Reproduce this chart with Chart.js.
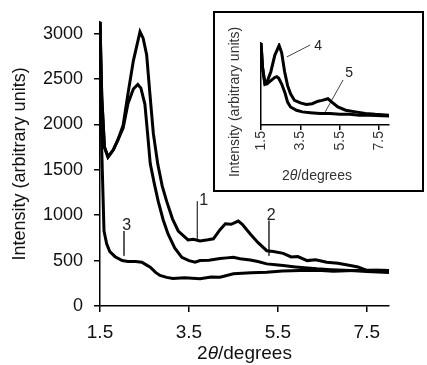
<!DOCTYPE html>
<html>
<head>
<meta charset="utf-8">
<script src="https://cdn.jsdelivr.net/npm/chart.js@4.4.1/dist/chart.umd.min.js"></script>
<style>
  html, body { margin: 0; padding: 0; background: #fff; }
  #wrap { position: relative; width: 427px; height: 365px; overflow: hidden; }
  #main { position: absolute; left: 0; top: 0; }
  #insetBox { position: absolute; left: 213px; top: 11px; width: 207px; height: 177px; border: 2px solid #000; background: #fff; }
  #inset { position: absolute; left: 0; top: 0; }
</style>
</head>
<body>
<div id="wrap">
  <canvas id="main" width="427" height="365"></canvas>
  <div id="insetBox"><canvas id="inset" width="207" height="177"></canvas></div>
</div>
<script>
// ---------- main chart data (2theta in degrees, intensity in arbitrary units) ----------
const x1 = [1.5, 1.54, 1.6, 1.68, 1.8, 1.9, 2.02, 2.13, 2.25, 2.4, 2.47, 2.55, 2.62, 2.7, 2.8, 2.9, 3.0, 3.13, 3.26, 3.48, 3.6, 3.75, 3.93, 4.05, 4.2, 4.32, 4.45, 4.61, 4.7, 4.88, 5.05, 5.25, 5.4, 5.62, 5.8, 5.95, 6.16, 6.35, 6.6, 6.85, 7.13, 7.3, 7.5, 7.75, 8.0];
const y1 = [3130, 2300, 1750, 1641, 1720, 1826, 1990, 2340, 2700, 3020, 2950, 2764, 2350, 1900, 1560, 1320, 1152, 960, 826, 728, 735, 717, 730, 740, 840, 905, 900, 935, 900, 793, 700, 609, 600, 580, 540, 545, 500, 510, 482, 470, 446, 430, 391, 395, 391];

const x2 = [1.5, 1.54, 1.6, 1.68, 1.8, 1.9, 2.02, 2.13, 2.25, 2.35, 2.42, 2.51, 2.57, 2.63, 2.72, 2.81, 2.92, 3.03, 3.18, 3.34, 3.5, 3.64, 3.75, 3.95, 4.2, 4.35, 4.5, 4.65, 4.88, 5.05, 5.25, 5.45, 5.62, 5.9, 6.1, 6.38, 6.7, 7.13, 7.5, 8.0];
const y2 = [3130, 2300, 1750, 1641, 1720, 1826, 1960, 2230, 2390, 2440, 2400, 2221, 1900, 1568, 1350, 1152, 950, 793, 640, 536, 500, 482, 500, 505, 522, 530, 536, 520, 507, 490, 464, 455, 446, 430, 420, 409, 400, 391, 380, 370];

const x3 = [1.5, 1.54, 1.59, 1.65, 1.72, 1.84, 2.0, 2.13, 2.3, 2.44, 2.55, 2.63, 2.75, 2.85, 3.0, 3.14, 3.4, 3.75, 4.0, 4.2, 4.5, 4.9, 5.25, 5.6, 6.0, 6.4, 6.75, 7.2, 7.6, 8.0];
const y3 = [3130, 1700, 826, 685, 600, 543, 500, 489, 490, 482, 450, 427, 370, 337, 315, 304, 310, 301, 320, 318, 355, 365, 373, 385, 391, 395, 384, 390, 395, 391];

const xTicks = [1.5, 3.5, 5.5, 7.5];
const yTicks = [0, 500, 1000, 1500, 2000, 2500, 3000];

// curve number labels with their leader lines
const labelNames = ["1", "2", "3"];
const labelTextX = [3.83, 5.35, 2.1];
const labelTextY = [1163, 1000, 891];
const leaderX = [3.69, 5.3, 2.04];
const leaderTop = [1152, 940, 826];
const leaderBottom = [739, 554, 554];

// ---------- inset data ----------
const x4 = [1.5, 1.58, 1.7, 1.8, 2.0, 2.2, 2.42, 2.55, 2.7, 2.85, 3.0, 3.2, 3.5, 3.8, 4.1, 4.4, 4.6, 4.9, 5.1, 5.4, 5.8, 6.3, 6.8, 7.3, 8.0];
const y4 = [100, 70, 50, 52, 65, 85, 97, 88, 65, 48, 38, 30, 27, 25, 26, 29, 30, 32, 28, 22, 18, 16, 14, 13, 12];
const x5 = [1.5, 1.58, 1.7, 1.8, 2.0, 2.2, 2.3, 2.4, 2.55, 2.72, 2.85, 3.0, 3.3, 3.6, 4.0, 4.5, 5.0, 5.5, 6.0, 6.5, 7.0, 8.0];
const y5 = [100, 70, 50, 50, 54, 58, 59, 57, 50, 39, 28, 22, 18, 16, 15, 14, 14, 13, 13, 12, 12, 11];

const insetNames = ["4", "5"];
const insetTextX = [4.4, 5.98];
const insetTextY = [96, 63];
const insetLeadX1 = [2.81, 4.76];
const insetLeadY1 = [83, 16];
const insetLeadX2 = [4.0, 5.67];
const insetLeadY2 = [97.6, 55];

const FONT = "'Liberation Sans', Arial, Helvetica, sans-serif";

function pts(xs, ys) {
  return xs.map((x, i) => ({ x: x, y: ys[i] }));
}

function curve(xs, ys, w) {
  return {
    data: pts(xs, ys),
    borderColor: "#000",
    borderWidth: w,
    pointRadius: 0,
    tension: 0,
    fill: false
  };
}

function leader(xa, ya, xb, yb) {
  return {
    data: [{ x: xa, y: ya }, { x: xb, y: yb }],
    borderColor: "#444",
    borderWidth: 1,
    pointRadius: 0,
    tension: 0,
    fill: false
  };
}

// draws "2θ/degrees" with an italic theta, centred on cx
function drawTwoTheta(ctx, cx, baseY, size, color) {
  const normal = size + "px " + FONT;
  const italic = "italic " + size + "px " + FONT;
  const parts = [["2", normal], ["θ", italic], ["/degrees", normal]];
  let total = 0;
  parts.forEach(p => { ctx.font = p[1]; total += ctx.measureText(p[0]).width; });
  let x = cx - total / 2;
  ctx.fillStyle = color;
  ctx.textAlign = "left";
  ctx.textBaseline = "alphabetic";
  parts.forEach(p => {
    ctx.font = p[1];
    ctx.fillText(p[0], x, baseY);
    x += ctx.measureText(p[0]).width;
  });
}

const mainText = {
  id: "mainText",
  afterDatasetsDraw(chart) {
    const ctx = chart.ctx;
    const xs = chart.scales.x, ys = chart.scales.y;
    ctx.save();
    ctx.font = "16px " + FONT;
    ctx.fillStyle = "#222";
    ctx.textAlign = "center";
    ctx.textBaseline = "middle";
    labelNames.forEach((t, i) => {
      ctx.fillText(t, xs.getPixelForValue(labelTextX[i]), ys.getPixelForValue(labelTextY[i]));
    });
    drawTwoTheta(ctx, (chart.chartArea.left + chart.chartArea.right) / 2, 359, 19, "#111");
    ctx.restore();
  }
};

const insetText = {
  id: "insetText",
  afterDatasetsDraw(chart) {
    const ctx = chart.ctx;
    const xs = chart.scales.x, ys = chart.scales.y;
    ctx.save();
    ctx.font = "14px " + FONT;
    ctx.fillStyle = "#222";
    ctx.textAlign = "center";
    ctx.textBaseline = "middle";
    insetNames.forEach((t, i) => {
      ctx.fillText(t, xs.getPixelForValue(insetTextX[i]), ys.getPixelForValue(insetTextY[i]));
    });
    drawTwoTheta(ctx, 102, 167, 14, "#333");
    // inset y title, centred on the box height
    ctx.translate(20, 89);
    ctx.rotate(-Math.PI / 2);
    ctx.fillStyle = "#333";
    ctx.font = "14px " + FONT;
    ctx.textAlign = "center";
    ctx.textBaseline = "middle";
    ctx.fillText("Intensity (arbitrary units)", 0, 0);
    ctx.restore();
  }
};

const mainDatasets = [curve(x1, y1, 3), curve(x2, y2, 3), curve(x3, y3, 3)];
labelNames.forEach((_, i) => {
  mainDatasets.push(leader(leaderX[i], leaderTop[i], leaderX[i], leaderBottom[i]));
});

new Chart(document.getElementById("main").getContext("2d"), {
  type: "line",
  data: { datasets: mainDatasets },
  options: {
    responsive: false,
    animation: false,
    devicePixelRatio: 1,
    layout: { padding: { left: 0, top: 18, right: 38, bottom: 0 } },
    plugins: { legend: { display: false }, tooltip: { enabled: false } },
    scales: {
      x: {
        type: "linear",
        min: 1.5,
        max: 8,
        afterBuildTicks: s => { s.ticks = xTicks.map(v => ({ value: v })); },
        afterFit: s => { s.height = 59; },
        ticks: { font: { size: 19, family: FONT }, color: "#111", padding: 9, maxRotation: 0, callback: v => v.toFixed(1) },
        grid: { drawOnChartArea: false, drawTicks: true, tickLength: 6, color: "#000", lineWidth: 1.5 },
        border: { display: true, color: "#000", width: 1.5 }
      },
      y: {
        min: 0,
        max: 3130,
        afterBuildTicks: s => { s.ticks = yTicks.map(v => ({ value: v })); },
        afterFit: s => { s.width = 100; },
        ticks: { font: { size: 18, family: FONT }, color: "#111", padding: 11, callback: v => String(v) },
        grid: { drawOnChartArea: false, drawTicks: true, tickLength: 6, color: "#000", lineWidth: 1.5 },
        border: { display: true, color: "#000", width: 1.5 },
        title: { display: true, text: "Intensity (arbitrary units)", font: { size: 18, family: FONT }, color: "#111", padding: { top: 9, bottom: 0 } }
      }
    }
  },
  plugins: [mainText]
});

const insetDatasets = [curve(x4, y4, 3), curve(x5, y5, 3)];
insetNames.forEach((_, i) => {
  insetDatasets.push(leader(insetLeadX1[i], insetLeadY1[i], insetLeadX2[i], insetLeadY2[i]));
});

new Chart(document.getElementById("inset").getContext("2d"), {
  type: "line",
  data: { datasets: insetDatasets },
  options: {
    responsive: false,
    animation: false,
    devicePixelRatio: 1,
    layout: { padding: { left: 0, top: 30, right: 33, bottom: 0 } },
    plugins: { legend: { display: false }, tooltip: { enabled: false } },
    scales: {
      x: {
        type: "linear",
        min: 1.5,
        max: 8,
        afterBuildTicks: s => { s.ticks = xTicks.map(v => ({ value: v })); },
        afterFit: s => { s.height = 65; },
        ticks: { font: { size: 14, family: FONT }, color: "#333", padding: 1, minRotation: 90, maxRotation: 90, callback: v => v.toFixed(1) },
        grid: { drawOnChartArea: false, drawTicks: true, tickLength: 5, color: "#000", lineWidth: 1.5 },
        border: { display: true, color: "#000", width: 1.5 }
      },
      y: {
        min: 0,
        max: 100,
        afterFit: s => { s.width = 46; },
        ticks: { display: false },
        grid: { display: false },
        border: { display: true, color: "#000", width: 1.5 }
      }
    }
  },
  plugins: [insetText]
});
</script>
</body>
</html>
